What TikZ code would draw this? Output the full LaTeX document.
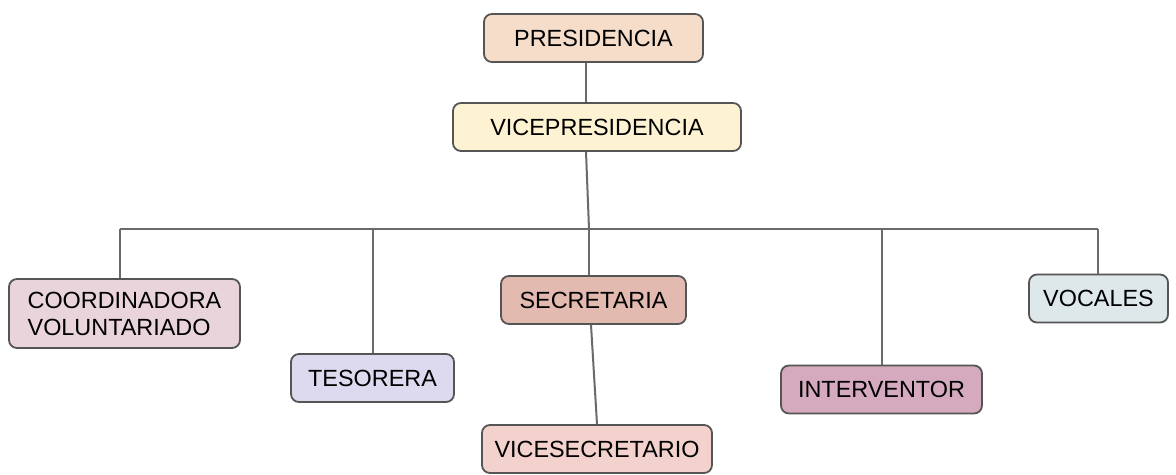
\documentclass[tikz,border=0pt]{standalone}
\usepackage{fontspec}
\setmainfont{Liberation Sans}
\definecolor{presfill}{HTML}{F6DDCA}
\definecolor{vicefill}{HTML}{FDF3D2}
\definecolor{coordfill}{HTML}{EAD4DB}
\definecolor{tesofill}{HTML}{DDD9EF}
\definecolor{secfill}{HTML}{E3BAB0}
\definecolor{vsecfill}{HTML}{F3D2CD}
\definecolor{intfill}{HTML}{D6AABE}
\definecolor{vocfill}{HTML}{DEE7E9}
\definecolor{edge}{HTML}{555555}
\definecolor{wire}{HTML}{6A6A6A}
\begin{document}
\begin{tikzpicture}[x=0.5pt, y=-0.5pt,
		box/.style={draw=edge, line width=0.9pt, rounded corners=4pt, minimum height=24pt,
			inner sep=0pt, font=\fontsize{11.7}{13.5}\selectfont},
		wire/.style={draw=wire, line width=1pt}]
		\useasboundingbox (0,0) rectangle (1176,475);
		\node (pres) [box, fill=presfill, minimum width=109.5pt] at (593.5,38) {PRESIDENCIA};
		\node (vpres) [box, fill=vicefill, minimum width=144pt] at (597,127) {VICEPRESIDENCIA};
		\node (coord) [box, fill=coordfill, minimum width=115.5pt, minimum height=34.5pt, align=left] at (124.5,313.5)
		{COORDINADORA\\VOLUNTARIADO};
		\node (teso) [box, fill=tesofill, minimum width=81.5pt] at (372.5,378) {TESORERA};
		\node (sec) [box, fill=secfill, minimum width=92.5pt] at (593.5,300) {SECRETARIA};
		\node (vsec) [box, fill=vsecfill, minimum width=115pt] at (597,449) {VICESECRETARIO};
		\node (inter) [box, fill=intfill, minimum width=100.5pt] at (881.5,389.5) {INTERVENTOR};
		\node (voc) [box, fill=vocfill, minimum width=69.5pt] at (1098.5,298.5) {VOCALES};
		% bar
		\coordinate (barL) at (120,229);
		\coordinate (barR) at (1098,229);
		\coordinate (hub) at (589,229);
		\draw [wire] (pres.south -| 586,0) -- (vpres.north -| 586,0);
		\draw [wire] (vpres.south -| 586,0) -- (hub);
		\draw [wire] (barL) -- (barR);
		\draw [wire] (barL) -- (coord.north -| barL);
		\draw [wire] (teso.north |- barL) -- (teso.north);
		\draw [wire] (hub) -- (sec.north -| hub);
		\draw [wire] (inter.north |- barL) -- (inter.north);
		\draw [wire] (barR) -- (voc.north -| barR);
		\draw [wire] (sec.south -| 591,0) -- (vsec.north);
\end{tikzpicture}
\end{document}
